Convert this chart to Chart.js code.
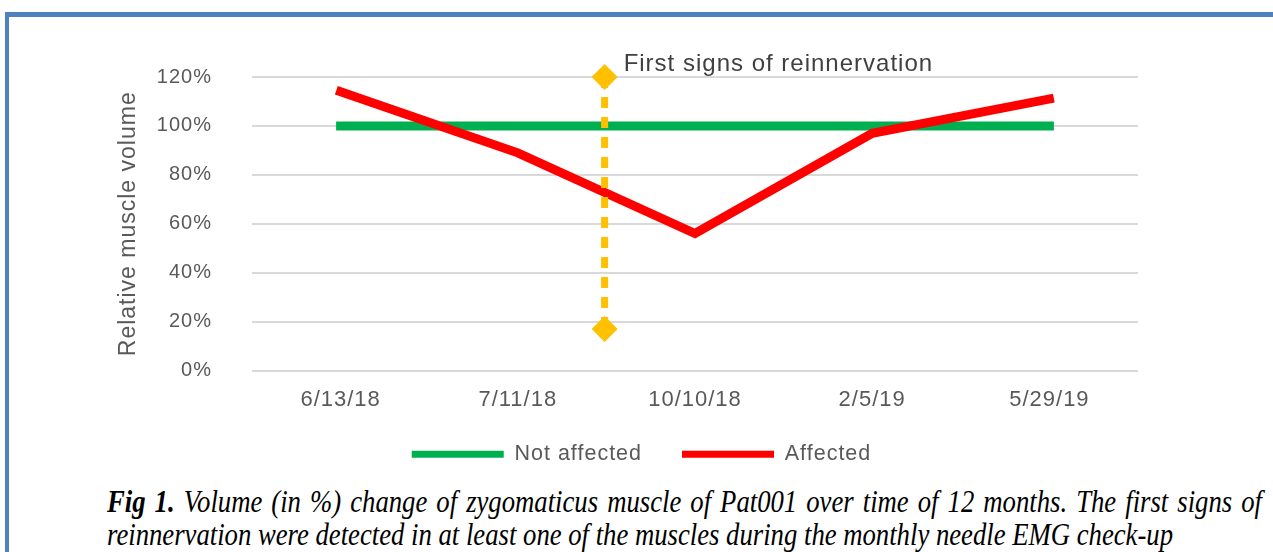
<!DOCTYPE html>
<html>
<head>
<meta charset="utf-8">
<script src="https://cdn.jsdelivr.net/npm/chart.js@4.4.0/dist/chart.umd.min.js"></script>
<style>
  body { margin: 0; background: #fff; width: 1273px; height: 552px; overflow: hidden; position: relative; }
  #frame { position: absolute; left: 5px; top: 12px; width: 1280px; height: 560px;
           border-top: 5px solid #4F81BD; border-left: 4px solid #4F81BD; }
  #chart { position: absolute; left: 10px; top: 17px; }
  #caption { position: absolute; left: 107px; top: 485px; font-family: "Liberation Serif", "Times New Roman", serif;
             font-style: italic; font-size: 31px; line-height: 33px; color: #000; transform-origin: 0 0; white-space: nowrap; }
  #caption .l1 { display: block; text-align: justify; text-align-last: justify; white-space: normal; }
  #caption .l2 { display: inline-block; }
</style>
</head>
<body>
<div id="frame"></div>
<canvas id="chart" width="1263" height="463"></canvas>
<div id="caption">
  <span class="l1"><b>Fig 1.</b> Volume (in %) change of zygomaticus muscle of Pat001 over time of 12 months. The first signs of</span>
  <span class="l2">reinnervation were detected in at least one of the muscles during the monthly needle EMG check-up</span>
</div>
<script>
// data
var dates = ['6/13/18', '7/11/18', '10/10/18', '2/5/19', '5/29/19'];
var notAffected = [100, 100, 100, 100, 100];
var affected = [114, 89, 56, 97, 111];
var markerPos = 1.49;           // between 7/11/18 and 10/10/18
var markerValues = [120, 17];
var markerText = 'First signs of reinnervation';
var yTicks = [0, 20, 40, 60, 80, 100, 120];

var FONT = '"Liberation Sans", Arial, sans-serif';

function toPoints(arr) {
    return arr.map(function (v, i) { return { x: i, y: v }; });
}

// the figure's text is a bit spaced out, so add some letter spacing
var spacing = {
    id: 'spacing',
    beforeLayout: function (chart) { chart.ctx.letterSpacing = '1px'; },
    beforeDraw: function (chart) { chart.ctx.letterSpacing = '1px'; }
};

// pull the legend up a little closer to the axis labels
var legendShift = {
    id: 'legendShift',
    afterLayout: function (chart) {
        chart.legend.top -= 11;
        chart.legend.bottom -= 11;
    }
};

var markerLabel = {
    id: 'markerLabel',
    afterDatasetsDraw: function (chart) {
        var p = chart.getDatasetMeta(2).data[0];
        var ctx = chart.ctx;
        ctx.save();
        ctx.font = '24px ' + FONT;
        ctx.fillStyle = '#404040';
        ctx.textBaseline = 'middle';
        ctx.fillText(markerText, p.x + 19, p.y - 13);
        ctx.restore();
    }
};

new Chart(document.getElementById('chart'), {
    type: 'line',
    data: {
        datasets: [{
            label: 'Not affected',
            data: toPoints(notAffected),
            borderColor: '#00B050',
            backgroundColor: '#00B050',
            borderWidth: 9,
            borderCapStyle: 'square',
            pointRadius: 0,
            order: 3
        }, {
            label: 'Affected',
            data: toPoints(affected),
            borderColor: '#FF0000',
            backgroundColor: '#FF0000',
            borderWidth: 9,
            borderCapStyle: 'square',
            pointRadius: 0,
            order: 2
        }, {
            label: 'marker',
            data: markerValues.map(function (v) { return { x: markerPos, y: v }; }),
            borderColor: '#FFC000',
            backgroundColor: '#FFC000',
            borderWidth: 7,
            borderDash: [11, 9],
            pointStyle: 'rectRot',
            pointRadius: 13,
            pointBorderWidth: 0,
            clip: false,
            order: 1
        }]
    },
    options: {
        responsive: false,
        animation: false,
        devicePixelRatio: 1,
        layout: { padding: { top: 60, bottom: -6, left: 0, right: 0 } },
        plugins: {
            tooltip: { enabled: false },
            legend: {
                position: 'bottom',
                labels: {
                    font: { family: FONT, size: 21.5 },
                    color: '#595959',
                    usePointStyle: true,
                    pointStyleWidth: 92,
                    boxHeight: 10,
                    padding: 40,
                    filter: function (item) { return item.datasetIndex < 2; },
                    sort: function (a, b) { return a.datasetIndex - b.datasetIndex; },
                    generateLabels: function (chart) {
                        var items = Chart.defaults.plugins.legend.labels.generateLabels(chart);
                        items.forEach(function (it) {
                            it.pointStyle = 'line';
                            it.lineWidth = 7;
                            it.lineDash = [];
                        });
                        return items;
                    }
                }
            }
        },
        scales: {
            x: {
                type: 'linear',
                min: -0.5,
                max: 4.5,
                afterBuildTicks: function (scale) {
                    scale.ticks = dates.map(function (d, i) { return { value: i }; });
                },
                afterFit: function (scale) { scale.height = 44; },
                grid: { display: false },
                border: { display: false },
                ticks: {
                    autoSkip: false,
                    maxRotation: 0,
                    padding: 8,
                    color: '#595959',
                    font: { family: FONT, size: 22 },
                    callback: function (v) { return dates[v]; }
                }
            },
            y: {
                min: 0,
                max: 120,
                afterBuildTicks: function (scale) {
                    scale.ticks = yTicks.map(function (v) { return { value: v }; });
                },
                afterFit: function (scale) { scale.width = 242; },
                grid: { color: '#D9D9D9', lineWidth: 2, drawTicks: false },
                border: { display: false },
                ticks: {
                    padding: 40,
                    color: '#595959',
                    font: { family: FONT, size: 20 },
                    callback: function (v) { return v + '%'; }
                },
                title: {
                    display: true,
                    text: 'Relative muscle volume',
                    color: '#595959',
                    font: { family: FONT, size: 23 },
                    padding: { top: 105, bottom: 0 }
                }
            },
            y2: {
                position: 'right',
                afterFit: function (scale) { scale.width = 135; },
                grid: { display: false },
                border: { display: false },
                ticks: { display: false }
            }
        }
    },
    plugins: [spacing, legendShift, markerLabel]
});

// fit caption lines to the figure width
var cap = document.getElementById('caption');
var l2 = cap.querySelector('.l2');
var s = 1066 / l2.getBoundingClientRect().width;
cap.style.transform = 'scaleX(' + s + ')';
cap.querySelector('.l1').style.width = (1155 / s) + 'px';
</script>
</body>
</html>
